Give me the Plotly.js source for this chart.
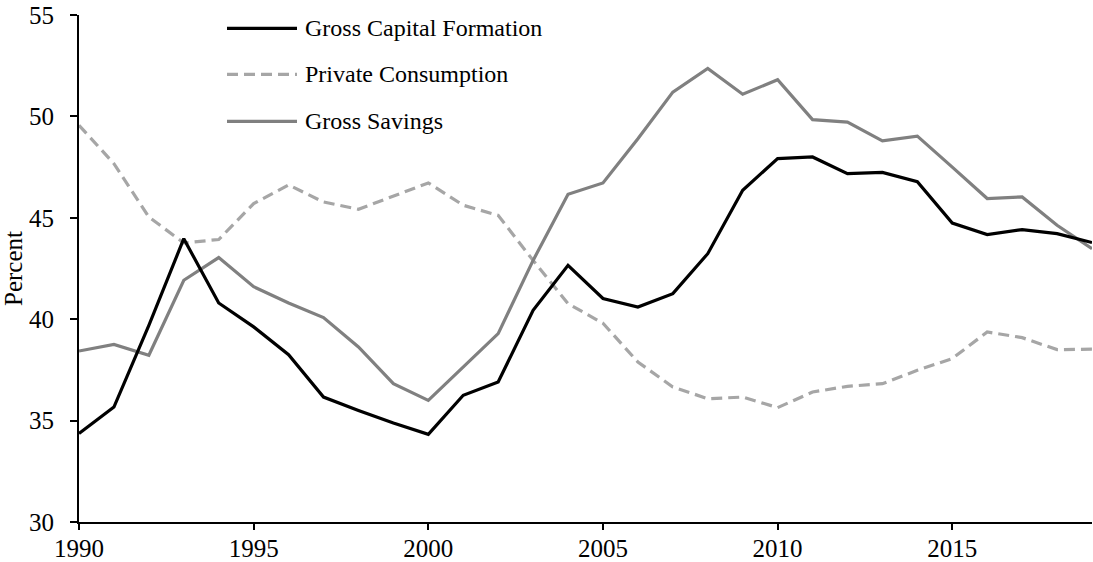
<!DOCTYPE html>
<html>
<head>
<meta charset="utf-8">
<script src="https://cdn.plot.ly/plotly-3.0.1.min.js"></script>
<style>
html,body{margin:0;padding:0;background:#fff;}
#chart{width:1093px;height:562px;}
</style>
</head>
<body>
<div id="chart"></div>
<script>
const years = [1990,1991,1992,1993,1994,1995,1996,1997,1998,1999,2000,2001,2002,2003,2004,2005,2006,2007,2008,2009,2010,2011,2012,2013,2014,2015,2016,2017,2018,2019];
const seriesNames = ["Gross Capital Formation", "Private Consumption", "Gross Savings"];
const grossCapitalFormation = [34.36,35.67,39.7,43.97,40.8,39.62,38.25,36.16,35.5,34.88,34.32,36.25,36.9,40.44,42.66,41.02,40.6,41.26,43.23,46.36,47.92,48.0,47.18,47.24,46.78,44.74,44.17,44.42,44.22,43.78];
const privateConsumption = [49.56,47.67,45.04,43.76,43.93,45.7,46.62,45.78,45.42,46.06,46.72,45.62,45.12,42.9,40.77,39.8,37.89,36.66,36.08,36.16,35.64,36.41,36.69,36.82,37.48,38.06,39.37,39.09,38.5,38.52];
const grossSavings = [38.43,38.76,38.22,41.92,43.04,41.6,40.8,40.08,38.63,36.82,36.0,37.64,39.29,42.9,46.16,46.72,48.9,51.2,52.36,51.09,51.81,49.84,49.72,48.79,49.03,47.5,45.95,46.03,44.63,43.48];
const yTicks = [30,35,40,45,50,55];
const xTicks = [1990,1995,2000,2005,2010,2015];

const FONT = "Liberation Serif, Times New Roman, serif";
const styles = [
  {color:"#000000", width:3.2, dash:"solid"},
  {color:"#A6A6A6", width:3.2, dash:"11px,6px"},
  {color:"#808080", width:3.2, dash:"solid"}
];
const seriesData = [grossCapitalFormation, privateConsumption, grossSavings];

// Draw order: consumption, savings, capital formation on top
const order = [1,2,0];
const traces = order.map(i => ({
  x: years, y: seriesData[i], name: seriesNames[i], type: "scatter", mode: "lines",
  line: {color: styles[i].color, width: styles[i].width, dash: styles[i].dash},
  showlegend: false, hoverinfo: "x+y"
}));

// Custom legend (long sample lines like the reference)
const legendY = [0.9738, 0.8830, 0.7903];
const shapes = [];
const annotations = [];
seriesNames.forEach((nm, i) => {
  shapes.push({type:"line", xref:"paper", yref:"paper", x0:0.1461, x1:0.2152, y0:legendY[i], y1:legendY[i],
    line:{color:styles[i].color, width:styles[i].width, dash:styles[i].dash}});
  annotations.push({xref:"paper", yref:"paper", x:0.2211, y:legendY[i], xanchor:"left", yanchor:"middle",
    text:nm, showarrow:false, font:{family:FONT, size:24, color:"#000"}});
});

const layout = {
  width:1093, height:562,
  margin:{l:79, r:1, t:15, b:40, pad:0},
  paper_bgcolor:"#fff", plot_bgcolor:"#fff",
  font:{family:FONT, size:25, color:"#000"},
  xaxis:{range:[1990,2019], tickvals:xTicks, ticktext:xTicks.map(String), showgrid:false, zeroline:false,
    showline:true, linecolor:"#000", linewidth:2, ticks:"outside", ticklen:6, tickwidth:2, tickcolor:"#000",
    tickfont:{family:FONT, size:25, color:"#000"}, ticklabelstandoff:-3, fixedrange:true},
  yaxis:{range:[30,55], tickvals:yTicks, ticktext:yTicks.map(String), showgrid:false, zeroline:false,
    showline:true, linecolor:"#000", linewidth:2, ticks:"outside", ticklen:7, tickwidth:2, tickcolor:"#000",
    tickfont:{family:FONT, size:25, color:"#000"}, ticklabelstandoff:11,
    title:{text:"Percent", font:{family:FONT, size:25, color:"#000"}, standoff:1}, automargin:false, fixedrange:true},
  shapes: shapes,
  annotations: annotations
};

Plotly.newPlot("chart", traces, layout, {displayModeBar:false, staticPlot:true});
</script>
</body>
</html>
